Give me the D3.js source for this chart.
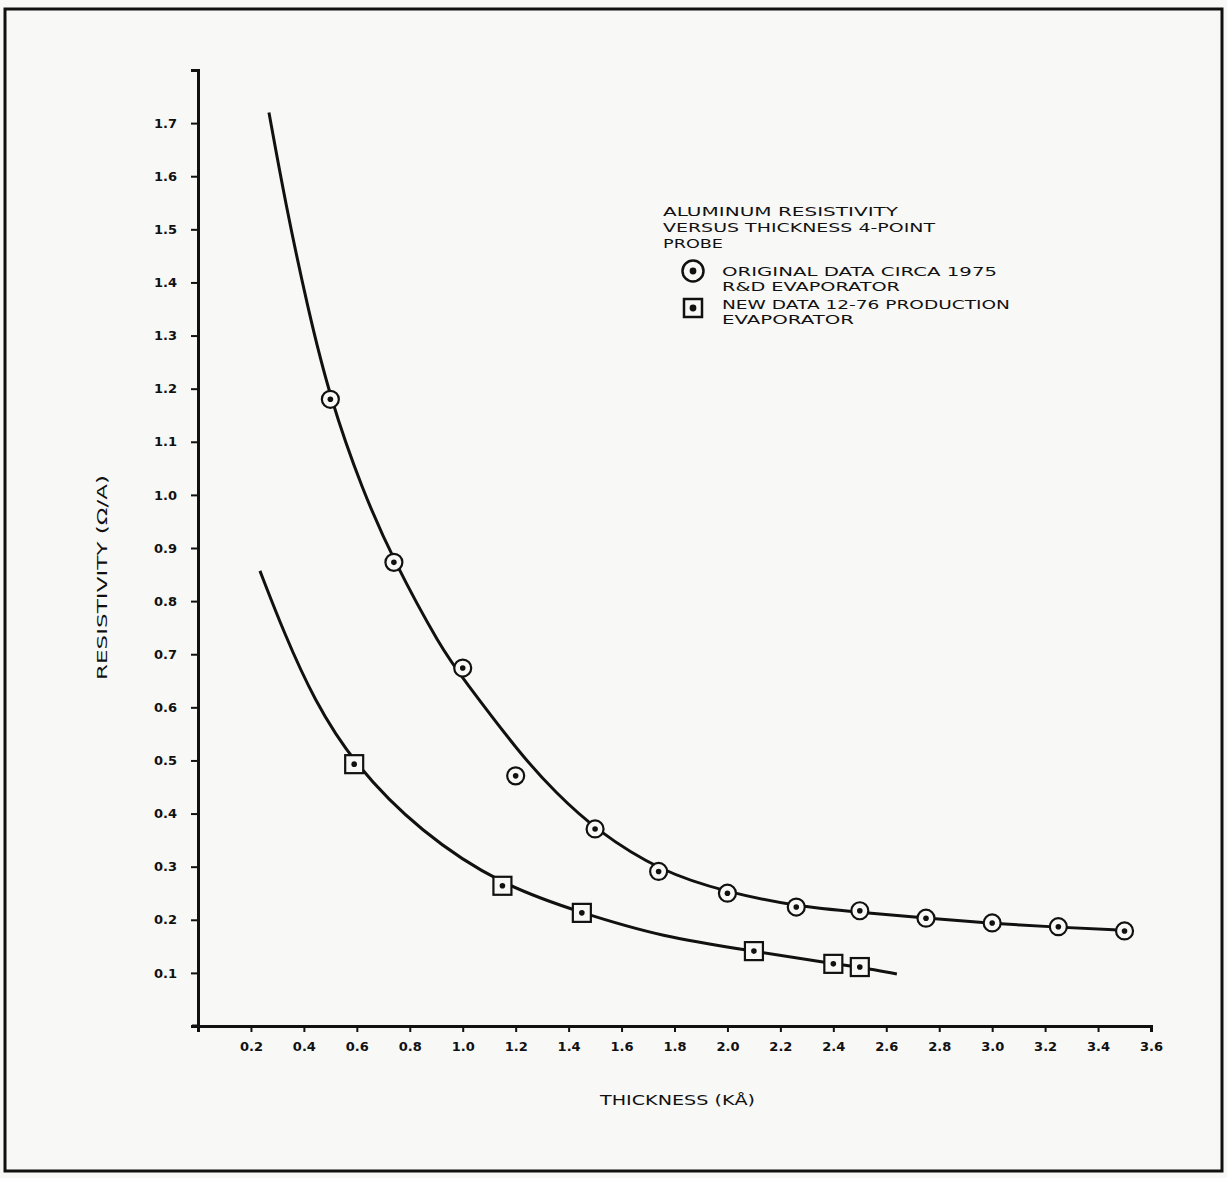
<!DOCTYPE html>
<html lang="en">
	<head>
		<meta charset="utf-8">
		<title>Aluminum resistivity versus thickness</title>
		<script type="text/javascript" src="https://cdn.jsdelivr.net/npm/d3@7"></script>
		<style type="text/css">
			body { margin: 0; background: #f8f8f7; }
			svg { display: block; }
			text { font-family: "DejaVu Sans", sans-serif; fill: #111; }
		</style>
	</head>
	<body>
		<script type="text/javascript">

			//Width and height
			var w = 1227;
			var h = 1178;

			//Tick values
			var xTicks = [0.2, 0.4, 0.6, 0.8, 1.0, 1.2, 1.4, 1.6, 1.8, 2.0, 2.2, 2.4, 2.6, 2.8, 3.0, 3.2, 3.4, 3.6];
			var yTicks = [0.1, 0.2, 0.3, 0.4, 0.5, 0.6, 0.7, 0.8, 0.9, 1.0, 1.1, 1.2, 1.3, 1.4, 1.5, 1.6, 1.7];

			//Original data circa 1975, R&D evaporator (circles)
			var origX = [0.5, 0.74, 1.0, 1.2, 1.5, 1.74, 2.0, 2.26, 2.5, 2.75, 3.0, 3.25, 3.5];
			var origY = [1.18, 0.873, 0.674, 0.471, 0.371, 0.291, 0.25, 0.224, 0.217, 0.203, 0.194, 0.187, 0.179];

			//New data 12-76, production evaporator (squares)
			var newX = [0.59, 1.15, 1.45, 2.1, 2.4, 2.5];
			var newY = [0.493, 0.264, 0.213, 0.141, 0.117, 0.111];

			//Hand drawn fitted curves
			var origCurveX = [0.268, 0.33, 0.415, 0.5, 0.62, 0.74, 0.92, 1.0, 1.22, 1.35, 1.5, 1.75, 2.0, 2.25, 2.5, 2.75, 3.0, 3.25, 3.5];
			var origCurveY = [1.72, 1.55, 1.35, 1.18, 1.01, 0.875, 0.71, 0.655, 0.51, 0.44, 0.37, 0.29, 0.252, 0.226, 0.214, 0.203, 0.193, 0.186, 0.18];
			var newCurveX = [0.234, 0.325, 0.438, 0.589, 0.84, 1.15, 1.45, 1.75, 2.1, 2.4, 2.5, 2.64];
			var newCurveY = [0.857, 0.74, 0.614, 0.493, 0.365, 0.264, 0.213, 0.168, 0.141, 0.117, 0.111, 0.098];

			//Legend text
			var legendTitle = ["ALUMINUM RESISTIVITY", "VERSUS THICKNESS 4-POINT", "PROBE"];
			var legendOrig = ["ORIGINAL DATA CIRCA 1975", "R&D EVAPORATOR"];
			var legendNew = ["NEW DATA 12-76 PRODUCTION", "EVAPORATOR"];

			//widths of the lettering in the scan (wide typeface)
			var titleWidths = [235, 272, 60];
			var origWidths = [275, 178];
			var newWidths = [288, 132];

			var svg = d3.select("body")
						.append("svg")
						.attr("width", w)
						.attr("height", h);

			//page frame
			svg.append("rect")
				.attr("x", 5).attr("y", 9)
				.attr("width", 1217).attr("height", 1162)
				.attr("fill", "none")
				.attr("stroke", "#111")
				.attr("stroke-width", 3);

			var x = d3.scaleLinear().domain([0, 3.6]).range([198, 1151]);
			var y = d3.scaleLinear().domain([0, 1.8]).range([1026, 70]);

			//X axis
			svg.append("g")
				.attr("transform", "translate(0," + y(0) + ")")
				.call(d3.axisBottom(x)
					.tickValues(xTicks)
					.tickSizeOuter(0)
					.tickSize(6)
					.tickPadding(10)
					.tickFormat(d3.format(".1f")));

			//Y axis
			svg.append("g")
				.attr("transform", "translate(" + x(0) + ",0)")
				.call(d3.axisLeft(y)
					.tickValues(yTicks)
					.tickSizeOuter(0)
					.tickSize(7)
					.tickPadding(14)
					.tickFormat(d3.format(".1f")));

			svg.selectAll(".domain")
				.attr("stroke", "#111")
				.attr("stroke-width", 3);
			svg.selectAll(".tick line")
				.attr("stroke", "#111")
				.attr("stroke-width", 2);
			svg.selectAll(".tick text")
				.attr("font-size", 13)
				.attr("font-weight", 600)
				.attr("fill", "#111")
				.style("font-family", "'DejaVu Sans', sans-serif");

			//extend the x axis slightly past the origin
			svg.append("line")
				.attr("x1", x(0) - 6).attr("x2", x(0))
				.attr("y1", y(0)).attr("y2", y(0))
				.attr("stroke", "#111").attr("stroke-width", 3);

			//Axis titles
			svg.append("text")
				.attr("x", 600)
				.attr("y", 1105)
				.attr("font-size", 13.5)
				.attr("textLength", 155)
				.attr("lengthAdjust", "spacingAndGlyphs")
				.text("THICKNESS (KÅ)");

			svg.append("text")
				.attr("transform", "translate(107,680) rotate(-90)")
				.attr("font-size", 13.5)
				.attr("textLength", 205)
				.attr("lengthAdjust", "spacingAndGlyphs")
				.text("RESISTIVITY (Ω/A)");

			//Curves
			var line = d3.line()
				.x(function(d) { return x(d[0]); })
				.y(function(d) { return y(d[1]); })
				.curve(d3.curveBasis);

			svg.append("path")
				.datum(d3.zip(origCurveX, origCurveY))
				.attr("d", line)
				.attr("fill", "none")
				.attr("stroke", "#111")
				.attr("stroke-width", 3);

			svg.append("path")
				.datum(d3.zip(newCurveX, newCurveY))
				.attr("d", line)
				.attr("fill", "none")
				.attr("stroke", "#111")
				.attr("stroke-width", 3);

			//Circle markers
			var circles = svg.selectAll("g.orig")
				.data(d3.zip(origX, origY))
				.enter()
				.append("g")
				.attr("class", "orig")
				.attr("transform", function(d) { return "translate(" + x(d[0]) + "," + y(d[1]) + ")"; });
			circles.append("circle")
				.attr("r", 8.5)
				.attr("fill", "#f8f8f7")
				.attr("stroke", "#111")
				.attr("stroke-width", 2.2);
			circles.append("circle")
				.attr("r", 2.8)
				.attr("fill", "#111");

			//Square markers
			var squares = svg.selectAll("g.new")
				.data(d3.zip(newX, newY))
				.enter()
				.append("g")
				.attr("class", "new")
				.attr("transform", function(d) { return "translate(" + x(d[0]) + "," + y(d[1]) + ")"; });
			squares.append("rect")
				.attr("x", -9).attr("y", -9)
				.attr("width", 18).attr("height", 18)
				.attr("fill", "#f8f8f7")
				.attr("stroke", "#111")
				.attr("stroke-width", 2.2);
			squares.append("circle")
				.attr("r", 2.8)
				.attr("fill", "#111");

			//Legend
			var legend = svg.append("g").attr("transform", "translate(663,0)");
			legend.selectAll("text.title")
				.data(legendTitle)
				.enter()
				.append("text")
				.attr("class", "title")
				.attr("x", 0)
				.attr("y", function(d, i) { return 216 + i * 16; })
				.attr("font-size", 12.5)
				.attr("textLength", function(d, i) { return titleWidths[i]; })
				.attr("lengthAdjust", "spacingAndGlyphs")
				.text(function(d) { return d; });

			legend.append("circle")
				.attr("cx", 30).attr("cy", 271).attr("r", 10.5)
				.attr("fill", "none").attr("stroke", "#111").attr("stroke-width", 2.5);
			legend.append("circle")
				.attr("cx", 30).attr("cy", 271).attr("r", 3.4)
				.attr("fill", "#111");
			legend.selectAll("text.orig")
				.data(legendOrig)
				.enter()
				.append("text")
				.attr("class", "orig")
				.attr("x", 59)
				.attr("y", function(d, i) { return 276 + i * 15; })
				.attr("font-size", 12.5)
				.attr("textLength", function(d, i) { return origWidths[i]; })
				.attr("lengthAdjust", "spacingAndGlyphs")
				.text(function(d) { return d; });

			legend.append("rect")
				.attr("x", 21).attr("y", 299).attr("width", 18).attr("height", 18)
				.attr("fill", "none").attr("stroke", "#111").attr("stroke-width", 2.5);
			legend.append("circle")
				.attr("cx", 30).attr("cy", 308).attr("r", 3.4)
				.attr("fill", "#111");
			legend.selectAll("text.new")
				.data(legendNew)
				.enter()
				.append("text")
				.attr("class", "new")
				.attr("x", 59)
				.attr("y", function(d, i) { return 309 + i * 15; })
				.attr("font-size", 12.5)
				.attr("textLength", function(d, i) { return newWidths[i]; })
				.attr("lengthAdjust", "spacingAndGlyphs")
				.text(function(d) { return d; });

		</script>
	</body>
</html>
